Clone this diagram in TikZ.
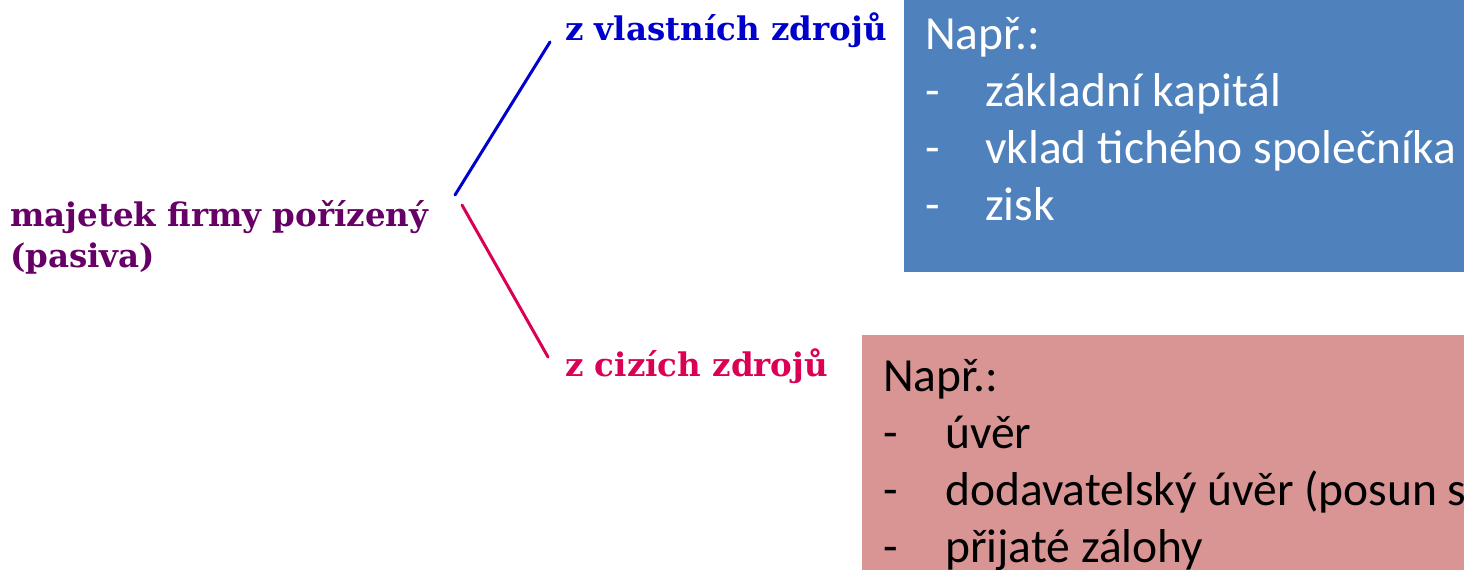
\documentclass[tikz,border=0pt]{standalone}
\usepackage{fontspec}
\newfontfamily\boxfont{Carlito}
\newfontfamily\slabfont{DejaVu Serif}
\definecolor{boxblue}{HTML}{4F81BD}
\definecolor{boxred}{HTML}{D99594}
\definecolor{labpurple}{HTML}{660066}
\definecolor{labblue}{HTML}{0000CC}
\definecolor{labred}{HTML}{DC0055}
\tikzset{
  panel/.style={rectangle, inner sep=0pt, anchor=north west},
  boxtxt/.style={inner sep=0pt, anchor=base west, font=\boxfont\fontsize{47.5}{57}\selectfont},
  slab/.style={inner sep=0pt, anchor=base west, font=\slabfont\bfseries\fontsize{32.5}{41}\selectfont},
  branch/.style={line width=3pt, line cap=round}
}
\begin{document}
\begin{tikzpicture}[x=1pt,y=-1pt]
\useasboundingbox (0,0) rectangle (1464,570);
\clip (0,0) rectangle (1464,570);
% panels
\node[panel, fill=boxblue, minimum width=600pt, minimum height=272pt] (bluepanel) at (904,0) {};
\node[panel, fill=boxred, minimum width=650pt, minimum height=260pt] (redpanel) at (862,335) {};
% blue panel text
\node[boxtxt, text=white] (b0) at (925,49) {Např.:};
\node[boxtxt, text=white] (b1d) at (925,106) {-};
\node[boxtxt, text=white] (b1) at (985,106) {základní kapitál};
\node[boxtxt, text=white] (b2d) at (925,163) {-};
\node[boxtxt, text=white] (b2) at (985,163) {vklad tichého společníka};
\node[boxtxt, text=white] (b3d) at (925,220) {-};
\node[boxtxt, text=white] (b3) at (985,220) {zisk};
% red panel text
\node[boxtxt, text=black] (r0) at (883,391) {Např.:};
\node[boxtxt, text=black] (r1d) at (883,448) {-};
\node[boxtxt, text=black] (r1) at (945,448) {úvěr};
\node[boxtxt, text=black] (r2d) at (883,505) {-};
\node[boxtxt, text=black] (r2) at (945,505) {dodavatelský úvěr (posun s};
\node[boxtxt, text=black] (r3d) at (883,562) {-};
\node[boxtxt, text=black] (r3) at (945,562) {přijaté zálohy};
% labels
\node[slab, text=labpurple] (root1) at (10,226) {majetek firmy pořízený};
\node[slab, text=labpurple] (root2) at (10,267) {(pasiva)};
\node[slab, text=labblue] (own) at (565,40) {z vlastních zdrojů};
\node[slab, text=labred] (foreign) at (565,376) {z cizích zdrojů};
% branches
\coordinate (bstart) at (455,195);
\coordinate (bend) at (550,42);
\coordinate (rstart) at (462,205);
\coordinate (rend) at (548,357);
\draw[branch, labblue] (bstart) -- (bend);
\draw[branch, labred] (rstart) -- (rend);
\end{tikzpicture}
\end{document}
